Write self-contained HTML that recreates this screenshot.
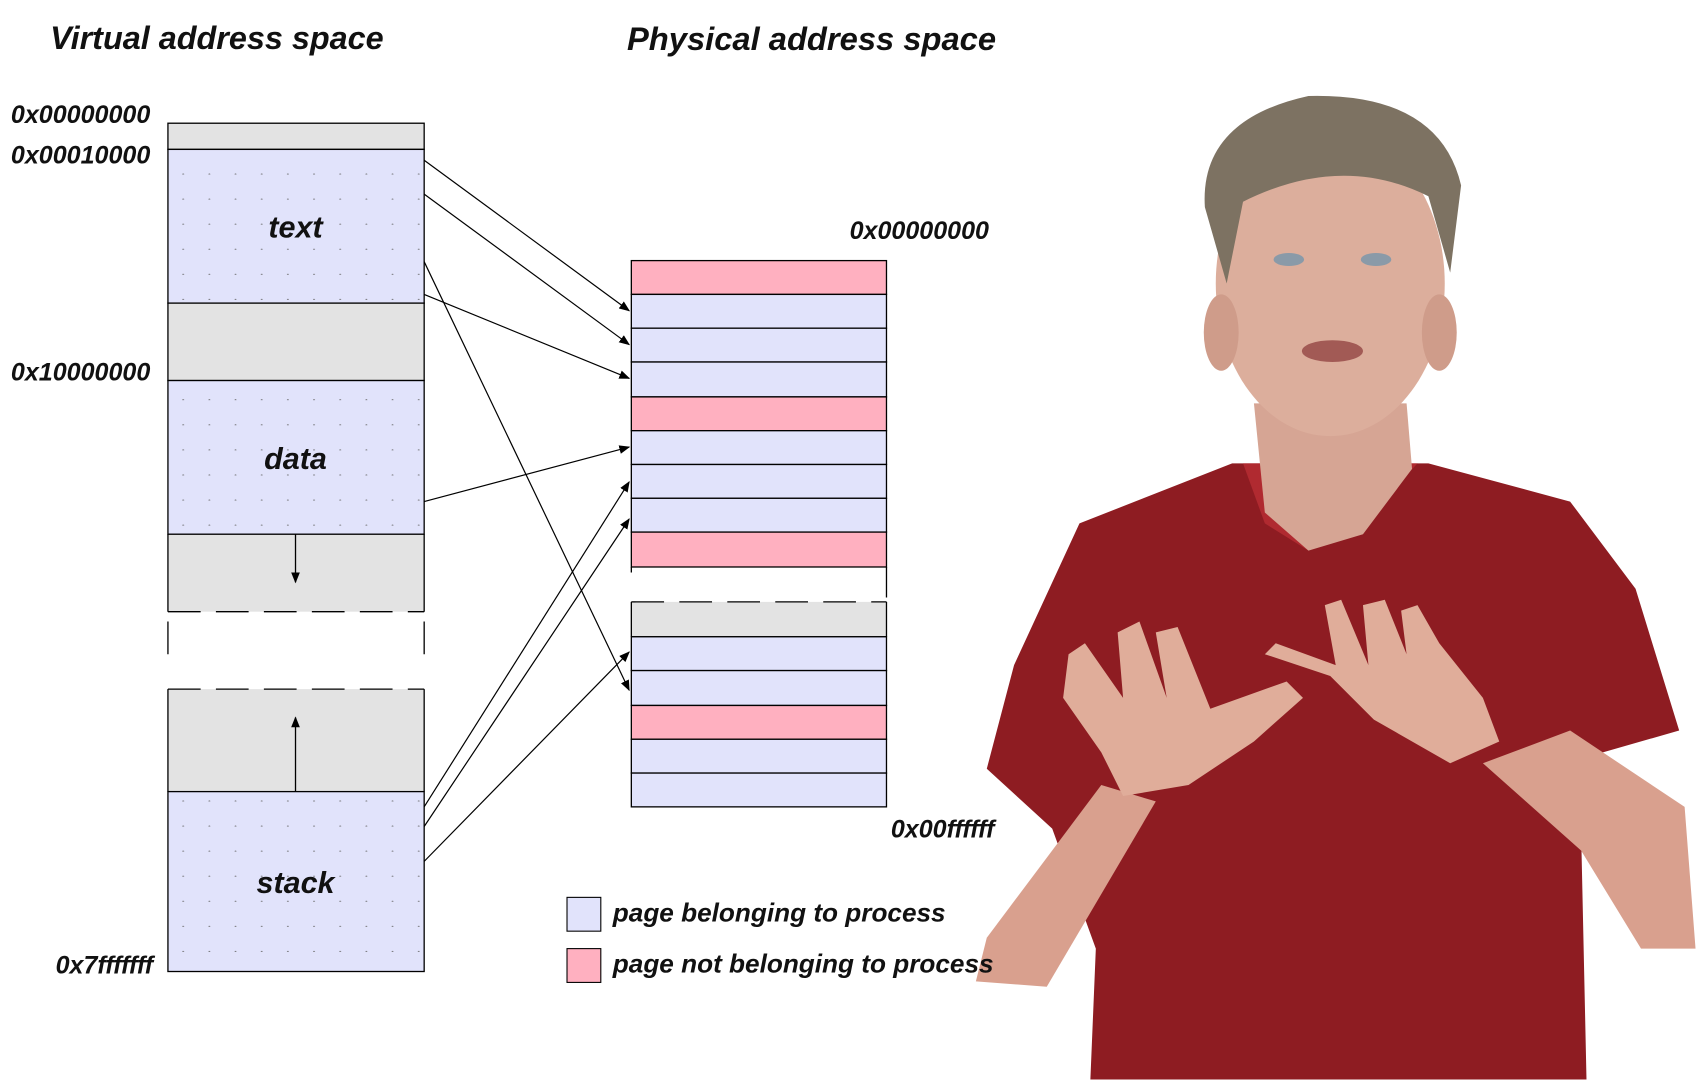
<!DOCTYPE html>
<html><head><meta charset="utf-8"><style>
html,body{margin:0;padding:0;background:#fff;width:1701px;height:1080px;overflow:hidden}
svg{display:block}
text{font-family:"Liberation Sans",sans-serif;font-weight:bold;font-style:italic;fill:#111}
</style></head><body>
<svg width="1701" height="1080" viewBox="0 0 1560 990.5" xmlns="http://www.w3.org/2000/svg">
<defs>
<pattern id="dots" x="154" y="137" width="24" height="23" patternUnits="userSpaceOnUse">
<rect width="24" height="23" fill="#e1e3fb"/><circle cx="14" cy="23" r="0.9" fill="#666"/>
</pattern>
<marker id="ah" markerWidth="10" markerHeight="8" refX="9" refY="4" orient="auto" markerUnits="userSpaceOnUse">
<path d="M0,0 L10,4 L0,8 Z" fill="#000"/></marker>
</defs>
<!-- titles -->
<text x="46" y="45" font-size="29.7">Virtual address space</text>
<text x="575" y="46" font-size="30">Physical address space</text>
<g font-size="23">
<text x="10" y="113">0x00000000</text>
<text x="10" y="150">0x00010000</text>
<text x="10" y="349">0x10000000</text>
<text x="51" y="893">0x7fffffff</text>
<text x="907" y="219" text-anchor="end">0x00000000</text>
<text x="912" y="768" text-anchor="end">0x00ffffff</text>
</g>
<!-- virtual -->
<g stroke="#000" stroke-width="1.2">
<rect x="154" y="113" width="235" height="24" fill="#e3e3e3"/>
<rect x="154" y="137" width="235" height="141" fill="url(#dots)"/>
<rect x="154" y="278" width="235" height="71" fill="#e3e3e3"/>
<rect x="154" y="349" width="235" height="141" fill="url(#dots)"/>
<rect x="154" y="490" width="235" height="71" fill="#e3e3e3" stroke="none"/>
<path d="M154,490 H389 M154,490 V561 M389,490 V561" fill="none"/>
<path d="M154,561 H389" stroke-dasharray="30,14" fill="none"/>
<path d="M154,570 V600 M389,570 V600" fill="none"/>
<rect x="154" y="632" width="235" height="94" fill="#e3e3e3" stroke="none"/>
<path d="M154,632 H389" stroke-dasharray="30,14" fill="none"/>
<path d="M154,632 V726 M389,632 V726" fill="none"/>
<rect x="154" y="726" width="235" height="165" fill="url(#dots)"/>
<line x1="271" y1="490" x2="271" y2="534" marker-end="url(#ah)"/>
<line x1="271" y1="726" x2="271" y2="658" marker-end="url(#ah)"/>
</g>
<g font-size="28" text-anchor="middle">
<text x="271" y="218">text</text>
<text x="271" y="430">data</text>
<text x="271" y="819">stack</text>
</g>
<!-- physical -->
<g stroke="#000" stroke-width="1.2">
<rect x="579" y="239" width="234" height="31" fill="#ffb0c0"/>
<rect x="579" y="270" width="234" height="31" fill="#e1e3fb"/>
<rect x="579" y="301" width="234" height="31" fill="#e1e3fb"/>
<rect x="579" y="332" width="234" height="32" fill="#e1e3fb"/>
<rect x="579" y="364" width="234" height="31" fill="#ffb0c0"/>
<rect x="579" y="395" width="234" height="31" fill="#e1e3fb"/>
<rect x="579" y="426" width="234" height="31" fill="#e1e3fb"/>
<rect x="579" y="457" width="234" height="31" fill="#e1e3fb"/>
<rect x="579" y="488" width="234" height="32" fill="#ffb0c0"/>
<path d="M579,520 V525 M813,520 V548" fill="none"/>
<rect x="579" y="552" width="234" height="32" fill="#e3e3e3" stroke="none"/>
<path d="M579,552 H813" stroke-dasharray="30,14" fill="none"/>
<path d="M579,552 V584 M813,552 V584 M579,584 H813" fill="none"/>
<rect x="579" y="584" width="234" height="31" fill="#e1e3fb"/>
<rect x="579" y="615" width="234" height="32" fill="#e1e3fb"/>
<rect x="579" y="647" width="234" height="31" fill="#ffb0c0"/>
<rect x="579" y="678" width="234" height="31" fill="#e1e3fb"/>
<rect x="579" y="709" width="234" height="31" fill="#e1e3fb"/>
</g>
<!-- mapping arrows -->
<g stroke="#000" stroke-width="1.1" marker-end="url(#ah)">
<line x1="389" y1="147" x2="577" y2="285"/>
<line x1="389" y1="178" x2="577" y2="316"/>
<line x1="389" y1="270" x2="577" y2="347"/>
<line x1="389" y1="460" x2="577" y2="410"/>
<line x1="389" y1="240" x2="577" y2="633"/>
<line x1="389" y1="740" x2="577" y2="442"/>
<line x1="389" y1="758" x2="577" y2="476"/>
<line x1="389" y1="790" x2="577" y2="598"/>
</g>
<!-- person (approximate) -->
<g>
<path d="M1130,425 L1310,425 L1440,460 L1500,540 L1540,670 L1470,690 L1450,760 L1455,990 L1000,990 L1005,870 L965,760 L905,705 L930,610 L990,480 Z" fill="#8e1c22"/>
<path d="M1140,425 L1300,425 L1250,480 L1200,505 L1160,480 Z" fill="#b02a30"/>
<path d="M1150,370 L1290,370 L1295,430 L1250,490 L1200,505 L1160,470 Z" fill="#d6a594"/>
<ellipse cx="1220" cy="260" rx="105" ry="140" fill="#dcae9c"/>
<ellipse cx="1120" cy="305" rx="16" ry="35" fill="#cf9c8a"/>
<ellipse cx="1320" cy="305" rx="16" ry="35" fill="#cf9c8a"/>
<path d="M1105,190 Q1100,110 1200,88 Q1320,85 1340,170 L1330,250 L1310,180 Q1230,140 1140,185 L1125,260 Z" fill="#7d7262"/>
<ellipse cx="1182" cy="238" rx="14" ry="6" fill="#8a9aa8"/>
<ellipse cx="1262" cy="238" rx="14" ry="6" fill="#8a9aa8"/>
<ellipse cx="1222" cy="322" rx="28" ry="10" fill="#a25a55"/>
<path d="M1360,700 L1440,670 L1545,740 L1555,870 L1505,870 L1450,780 Z" fill="#d9a08e"/>
<path d="M1010,720 L1060,735 L960,905 L895,900 L905,860 Z" fill="#d9a08e"/>
<path d="M975,640 L1010,690 L1030,730 L1090,720 L1150,680 L1195,640 L1180,625 L1110,650 L1080,575 L1060,580 L1070,640 L1045,570 L1025,580 L1030,640 L995,590 L980,600 Z" fill="#e0ad9a"/>
<path d="M1160,600 L1220,620 L1260,660 L1330,700 L1375,680 L1360,640 L1320,590 L1300,555 L1285,560 L1290,600 L1270,550 L1250,555 L1255,610 L1230,550 L1215,555 L1225,610 L1170,590 Z" fill="#e0ad9a"/>
</g>
<!-- legend -->
<rect x="520" y="823" width="31" height="31" fill="#e1e3fb" stroke="#000"/>
<rect x="520" y="870" width="31" height="31" fill="#ffb0c0" stroke="#000"/>
<text x="562" y="845" font-size="24">page belonging to process</text>
<text x="562" y="892" font-size="24">page not belonging to process</text>
</svg>
</body></html>
